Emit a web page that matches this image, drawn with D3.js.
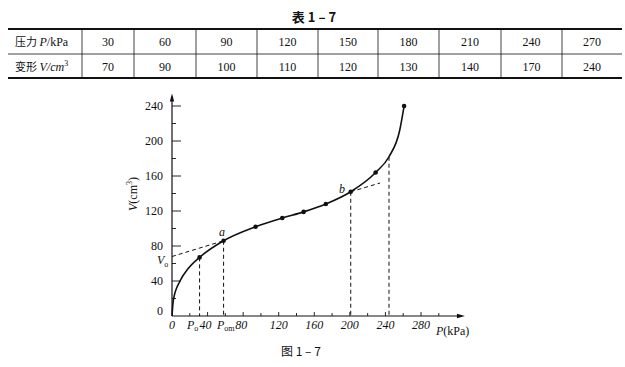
<!DOCTYPE html>
<html>
<head>
<meta charset="utf-8">
<script src="https://cdn.jsdelivr.net/npm/d3@7/dist/d3.min.js"></script>
<style>
  body { margin: 0; background: #fff; }
  svg { display: block; }
</style>
</head>
<body>
<div id="chart"></div>
<script>
// table 1-7
const tablePressure = [30, 60, 90, 120, 150, 180, 210, 240, 270];
const tableVolume = [70, 90, 100, 110, 120, 130, 140, 170, 240];

// points marked on figure 1-7
const pointP = [31, 58, 94, 124, 148, 173, 201, 229, 261];
const pointV = [67, 86, 102, 112, 119, 128, 142, 164, 240];

// extra points the smooth curve passes through
const curveP = [0, 1.5, 9, 18, 31, 58, 94, 124, 148, 173, 201, 229, 244, 256, 261];
const curveV = [0, 18, 40, 54, 67, 86, 102, 112, 119, 128, 142, 164, 182, 212, 240];

// construction lines
const V0 = 68;
const tangentB = { p1: 201, v1: 142, p2: 234, v2: 152 };
const dropP = [31, 58, 201, 244];
const dropV = [67, 86, 142, 182];

const xTicks = [0, 40, 80, 120, 160, 200, 240, 280];
const yTicks = [0, 40, 80, 120, 160, 200, 240];

const W = 625, H = 367;
const serif = "'Liberation Serif', 'DejaVu Serif', serif";
const cjk = "'Noto Sans CJK SC', sans-serif";
const ink = "#111";

const svg = d3.select("#chart").append("svg")
    .attr("width", W).attr("height", H);

// ---------- table ----------
svg.append("text")
    .attr("x", 314).attr("y", 22)
    .attr("text-anchor", "middle")
    .attr("font-family", cjk).attr("font-weight", "bold").attr("font-size", 13)
    .attr("fill", ink)
    .text("表 1 – 7");

const colEdges = [8, 82, 134, 196, 257, 318, 378, 439, 501, 562, 622];
const rowTop = 29, rowMid = 54, rowBot = 78;

svg.append("line").attr("x1", colEdges[0]).attr("x2", 622).attr("y1", rowTop).attr("y2", rowTop)
    .attr("stroke", ink).attr("stroke-width", 1.8);
svg.append("line").attr("x1", colEdges[0]).attr("x2", 622).attr("y1", rowMid).attr("y2", rowMid)
    .attr("stroke", ink).attr("stroke-width", 0.8);
svg.append("line").attr("x1", colEdges[0]).attr("x2", 622).attr("y1", rowBot).attr("y2", rowBot)
    .attr("stroke", ink).attr("stroke-width", 1.8);

svg.selectAll(".vline").data(colEdges.slice(1, -1)).join("line")
    .attr("x1", d => d).attr("x2", d => d)
    .attr("y1", rowTop).attr("y2", rowBot)
    .attr("stroke", ink).attr("stroke-width", 0.8);

const rowLabel1 = svg.append("text").attr("x", 15).attr("y", 46)
    .attr("fill", ink).attr("font-size", 12);
rowLabel1.append("tspan").attr("font-family", cjk).attr("font-size", 11).text("压力 ");
rowLabel1.append("tspan").attr("font-family", serif).attr("font-style", "italic").text("P");
rowLabel1.append("tspan").attr("font-family", serif).text("/kPa");

const rowLabel2 = svg.append("text").attr("x", 15).attr("y", 71)
    .attr("fill", ink).attr("font-size", 12);
rowLabel2.append("tspan").attr("font-family", cjk).attr("font-size", 11).text("变形 ");
rowLabel2.append("tspan").attr("font-family", serif).attr("font-style", "italic").text("V/cm");
rowLabel2.append("tspan").attr("font-family", serif).attr("font-size", 8).attr("dy", -5).text("3");

const colCenter = i => (colEdges[i + 1] + colEdges[i + 2]) / 2;
svg.selectAll(".pcell").data(tablePressure).join("text")
    .attr("x", (d, i) => colCenter(i)).attr("y", 46)
    .attr("text-anchor", "middle")
    .attr("font-family", serif).attr("font-size", 12).attr("fill", ink)
    .text(d => d);
svg.selectAll(".vcell").data(tableVolume).join("text")
    .attr("x", (d, i) => colCenter(i)).attr("y", 71)
    .attr("text-anchor", "middle")
    .attr("font-family", serif).attr("font-size", 12).attr("fill", ink)
    .text(d => d);

// ---------- figure ----------
const x = d3.scaleLinear().domain([0, 280]).range([172, 421]);
const y = d3.scaleLinear().domain([0, 240]).range([316, 106]);

const fig = svg.append("g");

// axes
const xEnd = x(326), yEnd = y(251);
fig.append("line").attr("x1", x(0)).attr("x2", xEnd).attr("y1", y(0)).attr("y2", y(0))
    .attr("stroke", ink).attr("stroke-width", 1.2);
fig.append("line").attr("x1", x(0)).attr("x2", x(0)).attr("y1", y(0)).attr("y2", yEnd)
    .attr("stroke", ink).attr("stroke-width", 1.2);
fig.append("path")
    .attr("d", `M${xEnd + 3},${y(0)} L${xEnd - 5},${y(0) - 2.2} L${xEnd - 5},${y(0) + 2.2} Z`)
    .attr("fill", ink);
fig.append("path")
    .attr("d", `M${x(0)},${yEnd - 3} L${x(0) - 2.2},${yEnd + 5} L${x(0) + 2.2},${yEnd + 5} Z`)
    .attr("fill", ink);

// ticks every 20
const minor = d3.range(20, 320, 20);
fig.selectAll(".xt").data(minor).join("line")
    .attr("x1", d => x(d)).attr("x2", d => x(d))
    .attr("y1", y(0)).attr("y2", d => y(0) - (d % 40 === 0 ? 4 : 3))
    .attr("stroke", ink).attr("stroke-width", 0.9);
fig.selectAll(".yt").data(d3.range(20, 260, 20)).join("line")
    .attr("x1", x(0)).attr("x2", d => x(0) + (d % 40 === 0 ? 9 : 4))
    .attr("y1", d => y(d)).attr("y2", d => y(d))
    .attr("stroke", ink).attr("stroke-width", 0.9);

fig.selectAll(".yl").data(yTicks).join("text")
    .attr("x", 163).attr("y", d => y(d) + (d === 0 ? -1 : 4))
    .attr("text-anchor", "end")
    .attr("font-family", serif).attr("font-size", 12).attr("fill", ink)
    .text(d => d);

fig.selectAll(".xl").data(xTicks).join("text")
    .attr("x", d => x(d) - (d === 40 || d === 80 ? 2 : 0)).attr("y", 329)
    .attr("text-anchor", "middle")
    .attr("font-family", serif).attr("font-style", "italic").attr("font-size", 12).attr("fill", ink)
    .text(d => d);

// axis titles
const yTitle = fig.append("text")
    .attr("transform", `translate(137,194) rotate(-90)`)
    .attr("text-anchor", "middle")
    .attr("font-family", serif).attr("font-size", 12).attr("fill", ink);
yTitle.append("tspan").attr("font-style", "italic").text("V");
yTitle.append("tspan").text("(cm");
yTitle.append("tspan").attr("font-size", 8).attr("dy", -5).text("3");
yTitle.append("tspan").attr("dy", 5).text(")");

const xTitle = fig.append("text").attr("x", 436).attr("y", 335)
    .attr("font-family", serif).attr("font-size", 12).attr("fill", ink);
xTitle.append("tspan").attr("font-style", "italic").text("P");
xTitle.append("tspan").text("(kPa)");

// dashed construction lines
const dash = "4,3";
fig.append("line")
    .attr("x1", x(0)).attr("y1", y(V0)).attr("x2", x(pointP[1])).attr("y2", y(pointV[1]))
    .attr("stroke", ink).attr("stroke-width", 1).attr("stroke-dasharray", dash);
fig.append("line")
    .attr("x1", x(tangentB.p1)).attr("y1", y(tangentB.v1)).attr("x2", x(tangentB.p2)).attr("y2", y(tangentB.v2))
    .attr("stroke", ink).attr("stroke-width", 1).attr("stroke-dasharray", dash);
fig.selectAll(".drop").data(dropP).join("line")
    .attr("x1", d => x(d)).attr("x2", d => x(d))
    .attr("y1", (d, i) => y(dropV[i])).attr("y2", y(0))
    .attr("stroke", ink).attr("stroke-width", 1).attr("stroke-dasharray", dash);

// curve
const curveData = curveP.map((p, i) => [p, curveV[i]]);
fig.append("path")
    .datum(curveData)
    .attr("d", d3.line().x(d => x(d[0])).y(d => y(d[1])).curve(d3.curveMonotoneX))
    .attr("fill", "none").attr("stroke", ink).attr("stroke-width", 1.6);

fig.selectAll(".pt").data(pointP).join("circle")
    .attr("cx", d => x(d)).attr("cy", (d, i) => y(pointV[i]))
    .attr("r", 2.3).attr("fill", ink);

// annotations
fig.append("text").attr("x", 219).attr("y", 236)
    .attr("font-family", serif).attr("font-style", "italic").attr("font-size", 12).attr("fill", ink)
    .text("a");
fig.append("text").attr("x", 339).attr("y", 193)
    .attr("font-family", serif).attr("font-style", "italic").attr("font-size", 12).attr("fill", ink)
    .text("b");

const v0Label = fig.append("text").attr("x", 157).attr("y", 264)
    .attr("font-family", serif).attr("font-size", 12).attr("fill", ink);
v0Label.append("tspan").attr("font-style", "italic").text("V");
v0Label.append("tspan").attr("font-size", 8).attr("dy", 3).text("o");

const p0Label = fig.append("text").attr("x", 187).attr("y", 329)
    .attr("font-family", serif).attr("font-size", 12).attr("fill", ink);
p0Label.append("tspan").attr("font-style", "italic").text("P");
p0Label.append("tspan").attr("font-size", 8).attr("dy", 2).text("o");

const pomLabel = fig.append("text").attr("x", 217).attr("y", 329)
    .attr("font-family", serif).attr("font-size", 12).attr("fill", ink);
pomLabel.append("tspan").attr("font-style", "italic").text("P");
pomLabel.append("tspan").attr("font-size", 8).attr("dy", 2).text("om");

// caption
svg.append("text").attr("x", 301).attr("y", 356)
    .attr("text-anchor", "middle")
    .attr("font-family", cjk).attr("font-size", 12).attr("fill", ink)
    .text("图 1 – 7");
</script>
</body>
</html>
